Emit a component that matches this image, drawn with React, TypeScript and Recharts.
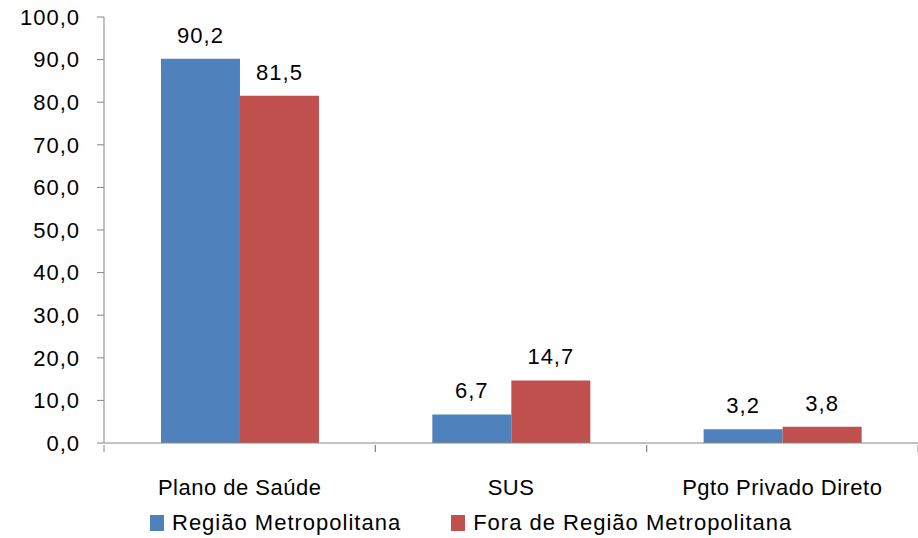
import React from 'react';
import { BarChart, Bar, XAxis, YAxis, Legend, LabelList } from 'recharts';

const categories = ['Plano de Saúde', 'SUS', 'Pgto Privado Direto'];
const regiaoMetropolitana = [90.2, 6.7, 3.2];
const foraRegiaoMetropolitana = [81.5, 14.7, 3.8];
const yTicks = [0, 10, 20, 30, 40, 50, 60, 70, 80, 90, 100];

const seriesNames = ['Região Metropolitana', 'Fora de Região Metropolitana'];
const COLORS = ['#4F81BD', '#C0504D'];

const data = categories.map((name, i) => ({
  name,
  rm: regiaoMetropolitana[i],
  fora: foraRegiaoMetropolitana[i],
}));

const WIDTH = 918;
const HEIGHT = 538;
const Y_AXIS_W = 104;
const MARGIN = { top: 17, right: 0, left: 0, bottom: 0 };
const FONT = "'Liberation Sans', Arial, sans-serif";
const AXIS_COLOR = '#868686';
const band = (WIDTH - Y_AXIS_W - MARGIN.left - MARGIN.right) / categories.length;

const fmt = (v: number) => Number(v).toFixed(1).replace('.', ',');

// category label plus Excel-style tick marks at the category boundaries
const CategoryTick = (props: any) => {
  const { x, y, payload } = props;
  return (
    <g>
      <line x1={x - band / 2} y1={y} x2={x - band / 2} y2={y + 7} stroke={AXIS_COLOR} />
      <line x1={x + band / 2} y1={y} x2={x + band / 2} y2={y + 7} stroke={AXIS_COLOR} />
      <text x={x} y={y + 50} textAnchor="middle" fontSize={22} letterSpacing={0.5} fontFamily={FONT} fill="#000">
        {payload.value}
      </text>
    </g>
  );
};

const LegendContent = () => (
  <div style={{ display: 'flex', paddingLeft: 150, paddingTop: 12, fontFamily: FONT, fontSize: 22, letterSpacing: 1, color: '#000' }}>
    {seriesNames.map((n, i) => (
      <div key={n} style={{ display: 'flex', alignItems: 'center', marginRight: 50 }}>
        <span style={{ width: 14, height: 16, background: COLORS[i], display: 'inline-block', marginRight: 8 }} />
        <span>{n}</span>
      </div>
    ))}
  </div>
);

const App: React.FC = () => {
  return (
    <div style={{ position: 'absolute', left: 0, top: 0 }}>
      <BarChart width={WIDTH} height={HEIGHT} data={data} margin={MARGIN} barCategoryGap="21%" barGap={0}>
        <XAxis
          dataKey="name"
          height={55}
          axisLine={{ stroke: AXIS_COLOR }}
          tickLine={false}
          tickSize={0}
          tick={<CategoryTick />}
          interval={0}
        />
        <YAxis
          width={Y_AXIS_W}
          domain={[0, 100]}
          ticks={yTicks}
          interval={0}
          tickFormatter={fmt}
          axisLine={{ stroke: AXIS_COLOR }}
          tickLine={{ stroke: AXIS_COLOR }}
          tickSize={7}
          tickMargin={17}
          tick={{ fill: '#000', fontSize: 22, fontFamily: FONT, letterSpacing: 1 }}
        />
        <Legend verticalAlign="bottom" height={40} content={<LegendContent />} wrapperStyle={{ left: 0, width: WIDTH }} />
        <Bar dataKey="rm" name={seriesNames[0]} fill={COLORS[0]} isAnimationActive={false}>
          <LabelList dataKey="rm" position="top" offset={16} formatter={fmt} fill="#000" fontSize={22} letterSpacing={1} fontFamily={FONT} />
        </Bar>
        <Bar dataKey="fora" name={seriesNames[1]} fill={COLORS[1]} isAnimationActive={false}>
          <LabelList dataKey="fora" position="top" offset={16} formatter={fmt} fill="#000" fontSize={22} letterSpacing={1} fontFamily={FONT} />
        </Bar>
      </BarChart>
    </div>
  );
};

export default App;
